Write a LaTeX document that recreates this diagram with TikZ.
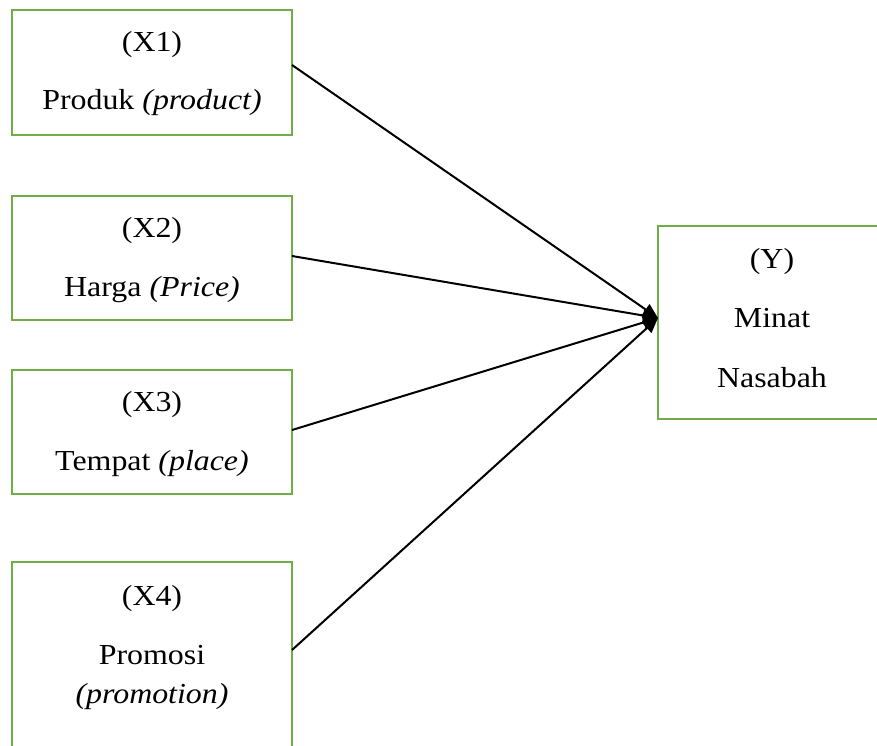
\documentclass[tikz,border=0pt]{standalone}
\usepackage{fontspec}
\setmainfont{Liberation Serif}[FakeStretch=1.1]
\usetikzlibrary{arrows.meta}
\definecolor{boxgreen}{RGB}{112,173,71}
\begin{document}
\begin{tikzpicture}[x=1pt,y=-1pt,
  box/.style={draw=boxgreen,line width=2.5pt,minimum width=280pt,inner sep=0pt,outer sep=0pt},
  txt/.style={font=\fontsize{29}{34}\selectfont,anchor=base,inner sep=0pt},
  link/.style={line width=2pt,-{Triangle[length=15pt,width=13pt]}}]
\useasboundingbox (0,0) rectangle (877,745);
\node[box,minimum height=125pt] (x1) at (152,72.5) {};
\node[box,minimum height=124pt] (x2) at (152,258) {};
\node[box,minimum height=124pt] (x3) at (152,432) {};
\node[box,minimum height=218pt] (x4) at (152,671) {};
\node[box,minimum width=228pt,minimum height=193pt] (y) at (772,322.5) {};
\node[txt] (x1a) at (152,51) {(X1)};
\node[txt] (x1b) at (152,109) {Produk \textit{(product)}};
\node[txt] (x2a) at (152,237) {(X2)};
\node[txt] (x2b) at (152,296) {Harga \textit{(Price)}};
\node[txt] (x3a) at (152,411) {(X3)};
\node[txt] (x3b) at (152,470) {Tempat \textit{(place)}};
\node[txt] (x4a) at (152,605) {(X4)};
\node[txt] (x4b) at (152,664) {Promosi};
\node[txt] (x4c) at (152,703) {\textit{(promotion)}};
\node[txt] (ya) at (772,268) {(Y)};
\node[txt] (yb) at (772,327) {Minat};
\node[txt] (yc) at (772,387) {Nasabah};
\coordinate (tip) at ([yshift=4.5pt]y.west);
\coordinate (s1) at ([yshift=7.5pt]x1.east);
\coordinate (s2) at ([yshift=2pt]x2.east);
\coordinate (s3) at ([yshift=2pt]x3.east);
\coordinate (s4) at ([yshift=21pt]x4.east);
\draw[link] (s1) -- (tip);
\draw[link] (s2) -- (tip);
\draw[link] (s3) -- (tip);
\draw[link] (s4) -- (tip);
\end{tikzpicture}
\end{document}
